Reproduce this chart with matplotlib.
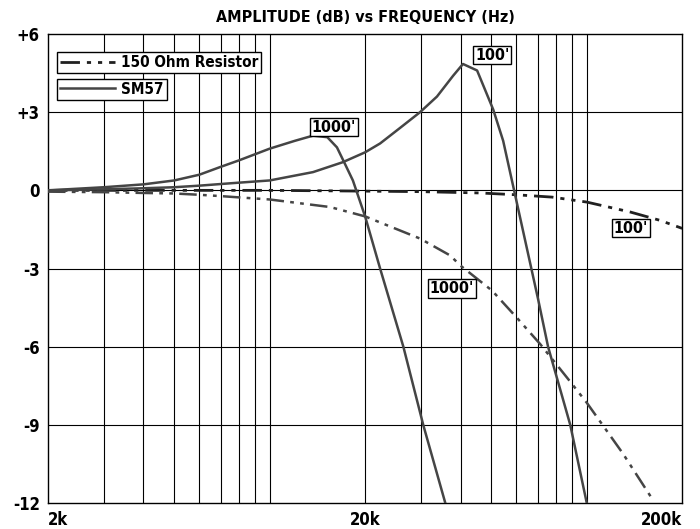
import matplotlib
matplotlib.use('Agg')
import matplotlib.pyplot as plt
from matplotlib.ticker import FixedLocator, NullLocator

plt.rcParams['font.family'] = ['DejaVu Sans']
plt.rcParams['font.stretch'] = 'condensed'
plt.rcParams['font.weight'] = 'bold'

# SM57, 1000' cable
sm57_1000_f = [2000, 3000, 4000, 5000, 6000, 7000, 8000, 10000, 12000, 13700, 15200, 16300, 17300, 18300, 20000, 22300, 26400, 30500, 35800]
sm57_1000_db = [0, 0.12, 0.23, 0.38, 0.6, 0.9, 1.15, 1.6, 1.9, 2.1, 2.04, 1.65, 1.0, 0.38, -1.0, -3.0, -6.0, -9.0, -12.0]

# SM57, 100' cable
sm57_100_f = [2000, 3000, 4000, 5000, 6000, 7500, 10000, 13700, 17000, 20000, 22300, 25800, 29800, 33700, 37900, 40700, 45100, 50700, 54500, 59000, 70300, 75500, 88700, 100000]
sm57_100_db = [0, 0.04, 0.08, 0.12, 0.18, 0.27, 0.38, 0.7, 1.08, 1.46, 1.8, 2.4, 3.0, 3.6, 4.4, 4.85, 4.6, 3.1, 1.9, 0.0, -4.2, -6.0, -9.0, -12.0]

# 150 Ohm resistor, 100' cable
res_100_f = [2000, 5000, 10000, 20000, 30000, 46000, 60000, 77800, 100000, 137000, 170000, 200000]
res_100_db = [0, 0, 0, -0.03, -0.05, -0.1, -0.17, -0.26, -0.45, -0.83, -1.15, -1.46]

# 150 Ohm resistor, 1000' cable
res_1000_f = [2000, 3000, 4000, 5000, 6000, 7000, 8000, 10000, 15500, 20000, 29800, 37100, 39900, 50300, 60300, 71300, 86800, 100000, 130000, 162000]
res_1000_db = [-0.05, -0.07, -0.1, -0.12, -0.17, -0.22, -0.27, -0.35, -0.64, -1.0, -1.85, -2.5, -2.88, -3.85, -4.9, -5.9, -7.2, -8.15, -10.1, -11.9]

y_ticks = [6, 3, 0, -3, -6, -9, -12]
y_labels = ['+6', '+3', '0', '-3', '-6', '-9', '-12']
x_ticks = [2000, 20000, 200000]
x_labels = ['2k', '20k', '200k']
x_grid = [3000, 4000, 5000, 6000, 7000, 8000, 9000, 10000, 20000,
          30000, 40000, 50000, 60000, 70000, 80000, 90000, 100000]

fig = plt.figure(figsize=(7, 5.29), dpi=100)
ax = fig.add_axes([0.0686, 0.0491, 0.906, 0.8866])
ax.set_xscale('log')
ax.set_xlim(2000, 200000)
ax.set_ylim(-12, 6)

for xg in x_grid:
    ax.axvline(xg, color='black', lw=0.8, zorder=1)
for yg in [3, 0, -3, -6, -9]:
    ax.axhline(yg, color='black', lw=0.8, zorder=1)

curve_col = '#454545'
res_style = (0, (7, 2.5, 1.5, 2.5, 1.5, 2.5))
l_res, = ax.plot(res_100_f, res_100_db, color='#202020', lw=2.0, ls=res_style, zorder=3)
ax.plot(res_1000_f, res_1000_db, color=curve_col, lw=1.8, ls=res_style, zorder=3)
l_sm, = ax.plot(sm57_100_f, sm57_100_db, color=curve_col, lw=1.8, zorder=3)
ax.plot(sm57_1000_f, sm57_1000_db, color=curve_col, lw=1.8, zorder=3)

box = dict(boxstyle='square,pad=0.1', fc='white', ec='black', lw=1)
ax.text(50300, 5.19, "100'", ha='center', va='center', fontsize=11.5, bbox=box, zorder=4)
ax.text(15960, 2.42, "1000'", ha='center', va='center', fontsize=11.5, bbox=box, zorder=4)
ax.text(138000, -1.46, "100'", ha='center', va='center', fontsize=11.5, bbox=box, zorder=4)
ax.text(37600, -3.77, "1000'", ha='center', va='center', fontsize=11.5, bbox=box, zorder=4)

leg_kw = dict(loc='upper left', fancybox=False, framealpha=1, edgecolor='black',
              borderpad=0.2, handlelength=3.6, handletextpad=0.4, borderaxespad=0,
              prop={'size': 11, 'weight': 'bold', 'stretch': 'condensed'})
leg1 = ax.legend([l_res], ['150 Ohm Resistor'], bbox_to_anchor=(0.014, 0.9616), **leg_kw)
leg1.get_frame().set_linewidth(1)
ax.add_artist(leg1)
leg2 = ax.legend([l_sm], ['SM57'], bbox_to_anchor=(0.014, 0.905), **leg_kw)
leg2.get_frame().set_linewidth(1)

ax.xaxis.set_major_locator(FixedLocator(x_ticks))
ax.xaxis.set_minor_locator(NullLocator())
ax.set_xticklabels(x_labels)
ax.set_yticks(y_ticks)
ax.set_yticklabels(y_labels)
ax.tick_params(length=0, labelsize=12, pad=6)
xl = ax.get_xticklabels()
xl[0].set_ha('left')
xl[-1].set_ha('right')
for s in ax.spines.values():
    s.set_color('black')
    s.set_linewidth(1)

ax.set_title('AMPLITUDE (dB) vs FREQUENCY (Hz)', fontsize=11.5, fontweight='bold', pad=9)

fig.savefig('out.png', dpi=100)
